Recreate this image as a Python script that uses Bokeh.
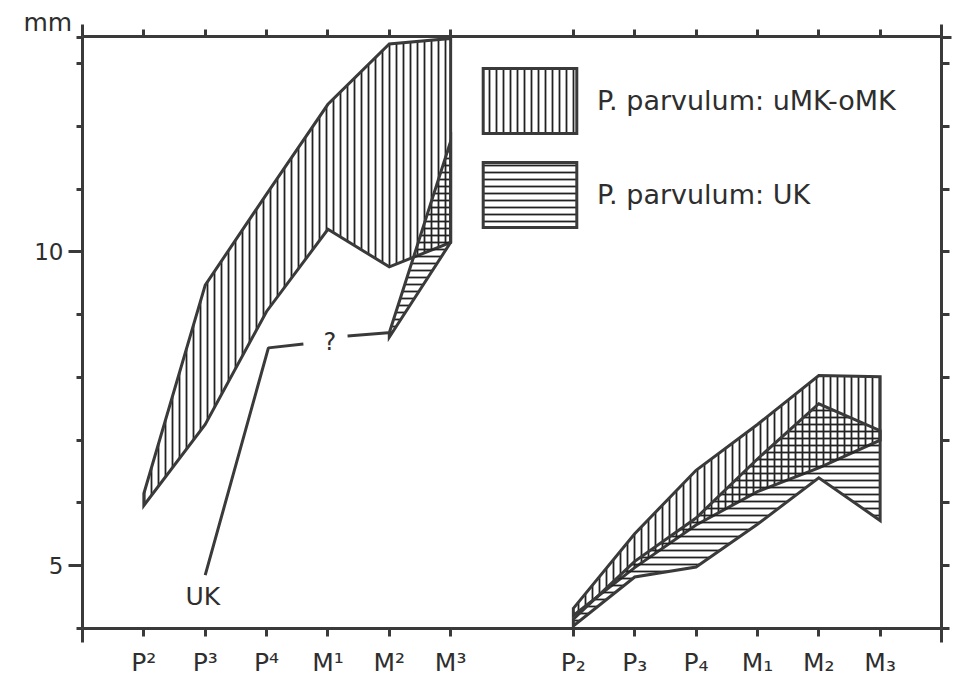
from bokeh.plotting import figure
from bokeh.models import FixedTicker, LinearAxis, Range1d, Legend, LegendItem
from bokeh.embed import file_html
from bokeh.resources import INLINE
from bokeh.core.properties import value

# ---- data (tooth length, mm) ----
upper_teeth = ["P²", "P³", "P⁴", "M¹", "M²", "M³"]
lower_teeth = ["P₂", "P₃", "P₄", "M₁", "M₂", "M₃"]
upper_pos = [1, 2, 3, 4, 5, 6]
lower_pos = [8, 9, 10, 11, 12, 13]

# P. parvulum: uMK-oMK
mk_upper_max = [6.15, 9.47, 10.92, 12.35, 13.31, 13.40]
mk_upper_min = [5.96, 7.25, 9.05, 10.36, 9.76, 10.15]
mk_lower_max = [4.32, 5.51, 6.52, 7.25, 8.03, 8.01]
mk_lower_min = [4.21, 4.97, 5.65, 6.18, 6.56, 7.00]

# P. parvulum: UK (upper dentition only M2, M3 known)
uk_upper_pos = [5, 6]
uk_upper_max = [8.71, 11.76]
uk_upper_min = [8.64, 10.15]
uk_lower_max = [4.15, 5.07, 5.76, 6.70, 7.58, 7.15]
uk_lower_min = [4.04, 4.82, 4.98, 5.66, 6.40, 5.72]

# UK guide line with "?" gap
uk_guide_x = [[2.0, 3.03, 3.6], [4.32, 4.98]]
uk_guide_y = [[4.85, 8.47, 8.53], [8.66, 8.71]]

y_ticks_labelled = [5, 10]
y_ticks_minor = [4, 6, 7, 8, 9, 11, 12, 13, 13.42]

INK = "#3a3a3a"
TXT = "#2e2e2e"
FONT = "DejaVu Sans"


def band(pos, hi, lo):
    return list(pos) + list(pos)[::-1], list(hi) + list(lo)[::-1]


mk_xs, mk_ys = zip(band(upper_pos, mk_upper_max, mk_upper_min),
                   band(lower_pos, mk_lower_max, mk_lower_min))
uk_xs, uk_ys = zip(band(uk_upper_pos, uk_upper_max, uk_upper_min),
                   band(lower_pos, uk_lower_max, uk_lower_min))

p = figure(frame_width=859, frame_height=592,
           x_range=Range1d(0, 14), y_range=Range1d(4, 13.43),
           output_backend="svg", toolbar_location=None,
           min_border_left=82, min_border_right=12,
           min_border_top=36, min_border_bottom=57)
p.outline_line_color = None
p.xgrid.visible = False
p.ygrid.visible = False
p.background_fill_color = "white"

# "mm" unit label at the top-left corner
p.title.text = "mm"
p.title.text_font = FONT
p.title.text_font_size = "25px"
p.title.text_font_style = "normal"
p.title.text_color = TXT
p.title.align = "left"
p.title.offset = -59
p.title.standoff = -25

r_mk = p.patches(list(mk_xs), list(mk_ys), fill_color=None,
                 line_color=INK, line_width=3, line_join="miter",
                 hatch_pattern="vertical_line", hatch_scale=7,
                 hatch_weight=1.8, hatch_color="#222222")
r_uk = p.patches(list(uk_xs), list(uk_ys), fill_color=None,
                 line_color=INK, line_width=3, line_join="miter",
                 hatch_pattern="horizontal_line", hatch_scale=7,
                 hatch_weight=1.8, hatch_color="#222222")

p.multi_line(uk_guide_x, uk_guide_y, line_color=INK, line_width=3)
p.text(x=[1.96], y=[4.51], text=["UK"], text_font=value(FONT),
       text_font_size="25px", text_color=TXT, text_align="center",
       text_baseline="middle")
p.text(x=[4.03], y=[8.57], text=["?"], text_font=value(FONT),
       text_font_size="24px", text_color=TXT, text_align="center",
       text_baseline="middle")


def style(ax):
    ax.axis_line_color = INK
    ax.axis_line_width = 3
    ax.major_tick_line_color = INK
    ax.major_tick_line_width = 3
    ax.minor_tick_line_color = INK
    ax.minor_tick_line_width = 3
    ax.major_tick_in = 0
    ax.minor_tick_in = 0
    ax.major_label_text_font = FONT
    ax.major_label_text_color = TXT


# bottom axis
xb = p.xaxis[0]
style(xb)
xb.ticker = FixedTicker(ticks=upper_pos + lower_pos, minor_ticks=[0, 14])
xb.major_label_overrides = {k: v for k, v in zip(upper_pos + lower_pos, upper_teeth + lower_teeth)}
xb.major_label_text_font_size = "25px"
xb.major_tick_out = 8
xb.minor_tick_out = 14
xb.major_label_standoff = 5

# left axis
yl = p.yaxis[0]
style(yl)
yl.ticker = FixedTicker(ticks=y_ticks_labelled, minor_ticks=y_ticks_minor)
yl.major_label_text_font_size = "23px"
yl.major_tick_out = 14
yl.minor_tick_out = 6
yl.major_label_standoff = 5

# top axis
xt = LinearAxis(ticker=FixedTicker(ticks=upper_pos + lower_pos, minor_ticks=[0, 14]))
style(xt)
xt.major_label_text_font_size = "0px"
xt.major_label_standoff = 0
xt.major_tick_out = 7
xt.minor_tick_out = 12
p.add_layout(xt, "above")

# right axis
yr = LinearAxis(ticker=FixedTicker(ticks=[4, 5, 6, 7, 8, 9, 10, 11, 12, 13], minor_ticks=[13.42]))
style(yr)
yr.major_label_text_font_size = "0px"
yr.major_label_standoff = 0
yr.major_tick_out = 8
yr.minor_tick_out = 10
p.add_layout(yr, "right")

legend = Legend(items=[LegendItem(label="P. parvulum: uMK-oMK", renderers=[r_mk]),
                       LegendItem(label="P. parvulum: UK", renderers=[r_uk])],
                location=(389, 393), glyph_width=117, glyph_height=81,
                label_height=81, spacing=13, label_standoff=9, padding=0,
                margin=0, border_line_color=None, background_fill_alpha=0,
                label_text_font=FONT, label_text_font_size="27px",
                label_text_color=TXT)
p.add_layout(legend)

open("out.html", "w").write(file_html(p, INLINE))
